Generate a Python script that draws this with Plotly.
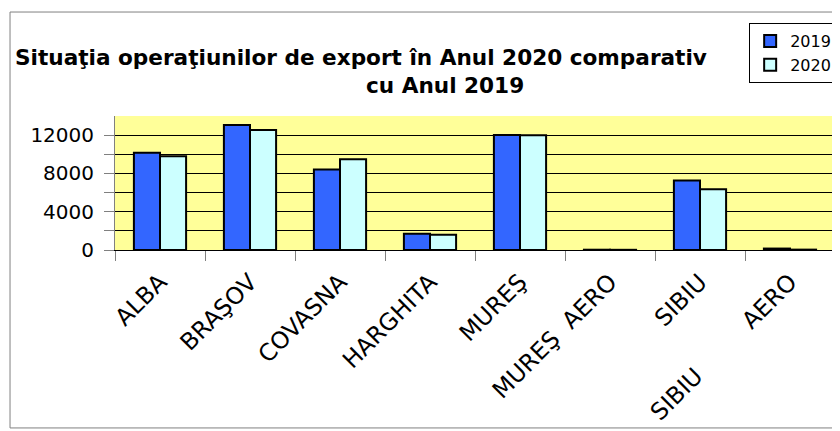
import plotly.graph_objects as go

NBSP = "\u00a0"

# Data
categories = [
    "ALBA", "BRAŞOV", "COVASNA", "HARGHITA", "MUREŞ",
    "MUREŞ" + NBSP * 2 + "AERO", "SIBIU", "SIBIU" + NBSP * 9 + "AERO",
]
values_2019 = [10150, 13060, 8400, 1710, 12020, 30, 7260, 150]
values_2020 = [9800, 12540, 9480, 1600, 12000, 20, 6350, 40]

y_tickvals = [0, 2000, 4000, 6000, 8000, 10000, 12000]
y_ticktext = ["0", "", "4000", "", "8000", "", "12000"]

FONT = "DejaVu Sans"
GRAY = "#808080"

fig = go.Figure()

fig.add_trace(go.Bar(
    x=categories, y=values_2019, name="2019",
    marker=dict(color="#3366FF", line=dict(color="black", width=2)),
))
fig.add_trace(go.Bar(
    x=categories, y=values_2020, name="2020",
    marker=dict(color="#CCFFFF", line=dict(color="black", width=2)),
))

# page body has an 8px margin, so the figure is a bit smaller than the window
fig.update_layout(
    width=832, height=423,
    margin=dict(l=107, r=5, t=108, b=181, autoexpand=False),
    paper_bgcolor="white",
    plot_bgcolor="#FFFF99",
    barmode="group", bargap=0.42, bargroupgap=0,
    font=dict(family=FONT, color="black"),
    legend=dict(
        x=1.003, y=1.694, xanchor="right", yanchor="top",
        bgcolor="white", bordercolor="black", borderwidth=1,
        font=dict(size=16), tracegroupgap=0, itemwidth=30,
    ),
)

fig.update_yaxes(
    range=[0, 14000],
    tickvals=y_tickvals, ticktext=y_ticktext,
    tickfont=dict(size=20),
    ticks="outside", ticklen=10, tickcolor=GRAY,
    ticklabelstandoff=6,
    showgrid=True, gridcolor="black", gridwidth=1,
    showline=True, linecolor=GRAY, mirror=True,
    zeroline=False,
)
fig.update_xaxes(
    type="category", tickson="boundaries",
    ticks="outside", ticklen=10, tickcolor=GRAY,
    tickangle=-45, tickfont=dict(size=23.5),
    ticklabelstandoff=8,
    showline=True, linecolor="black",
    showgrid=False,
)

# Two-line chart title, placed like the original
fig.add_annotation(
    text="<b>Situaţia operaţiunilor de export în Anul 2020 comparativ</b>",
    xref="paper", yref="paper", x=0.342, y=1.44,
    xanchor="center", yanchor="middle", showarrow=False,
    font=dict(size=21.6, family=FONT),
)
fig.add_annotation(
    text="<b>cu Anul 2019</b>",
    xref="paper", yref="paper", x=0.458, y=1.224,
    xanchor="center", yanchor="middle", showarrow=False,
    font=dict(size=21.6, family=FONT),
)

# Outer chart border
fig.add_shape(
    type="rect", xref="paper", yref="paper",
    x0=-0.1458, x1=1.0042, y0=-1.328, y1=1.776,
    line=dict(color=GRAY, width=1), layer="below",
)

fig.write_html("out.html")
